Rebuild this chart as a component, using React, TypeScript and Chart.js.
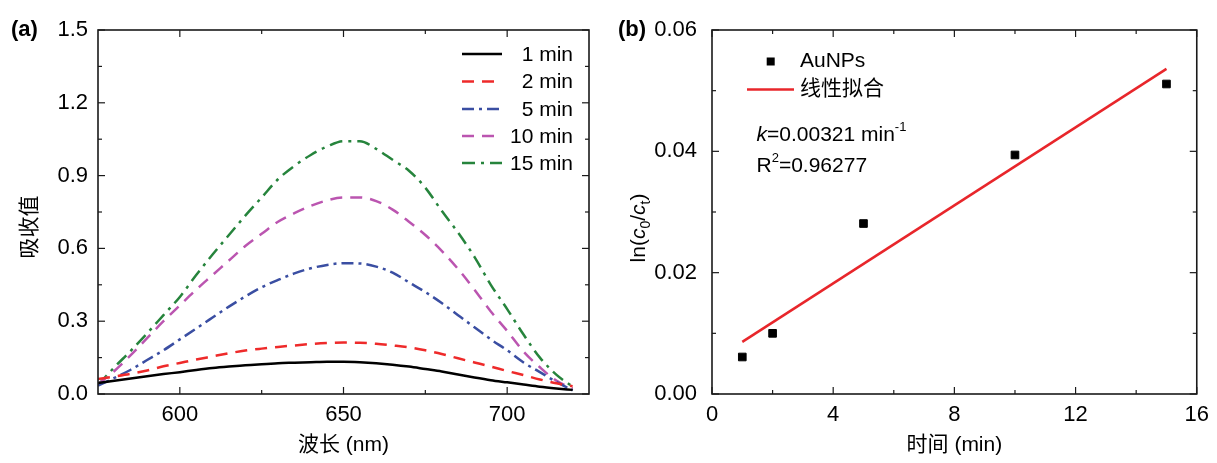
import React, { useEffect, useRef } from "react";
import { Chart, registerables } from "chart.js";

Chart.register(...registerables);

// ---------- data ----------
const wavelengths = [575, 580, 585, 590, 595, 600, 605, 610, 615, 620, 625, 630, 635, 640, 645, 650, 655, 660, 665, 670, 675, 680, 685, 690, 695, 700, 705, 710, 715, 720];
const abs1min = [0.045, 0.055, 0.064, 0.073, 0.082, 0.09, 0.099, 0.107, 0.113, 0.118, 0.123, 0.127, 0.129, 0.131, 0.133, 0.133, 0.131, 0.127, 0.121, 0.113, 0.103, 0.093, 0.08, 0.068, 0.057, 0.048, 0.039, 0.03, 0.023, 0.017];
const abs2min = [0.062, 0.072, 0.083, 0.097, 0.114, 0.128, 0.142, 0.155, 0.168, 0.179, 0.187, 0.194, 0.2, 0.206, 0.21, 0.212, 0.211, 0.207, 0.2, 0.192, 0.18, 0.165, 0.147, 0.13, 0.113, 0.095, 0.078, 0.06, 0.044, 0.032];
const abs5min = [0.035, 0.066, 0.1, 0.14, 0.18, 0.225, 0.27, 0.315, 0.36, 0.402, 0.44, 0.47, 0.497, 0.518, 0.532, 0.539, 0.538, 0.525, 0.5, 0.46, 0.42, 0.375, 0.325, 0.275, 0.225, 0.18, 0.13, 0.09, 0.05, 0.015];
const abs10min = [0.04, 0.095, 0.16, 0.23, 0.3, 0.365, 0.43, 0.49, 0.55, 0.61, 0.66, 0.71, 0.745, 0.775, 0.798, 0.81, 0.81, 0.795, 0.76, 0.71, 0.655, 0.59, 0.515, 0.43, 0.34, 0.26, 0.175, 0.11, 0.055, 0.022];
const abs15min = [0.037, 0.11, 0.178, 0.25, 0.325, 0.4, 0.49, 0.575, 0.655, 0.735, 0.81, 0.885, 0.94, 0.985, 1.02, 1.042, 1.042, 1.01, 0.965, 0.92, 0.85, 0.755, 0.665, 0.565, 0.45, 0.35, 0.245, 0.15, 0.08, 0.03];
const seriesLabels = ["1 min", "2 min", "5 min", "10 min", "15 min"];

const timeMin = [1, 2, 5, 10, 15];
const lnRatio = [0.0061, 0.01, 0.0281, 0.0394, 0.0511];
const fitTime = [1, 15];
const fitLn = [0.0086, 0.0536];

const xTicksA = [600, 650, 700];
const xMinorA = [625, 675];
const yTicksA = [0, 0.3, 0.6, 0.9, 1.2, 1.5];
const yMinorA = [0.15, 0.45, 0.75, 1.05, 1.35];
const xTicksB = [0, 4, 8, 12, 16];
const xMinorB = [2, 6, 10, 14];
const yTicksB = [0, 0.02, 0.04, 0.06];
const yMinorB = [0.01, 0.03, 0.05];

// ---------- styles ----------
const FONT = "'Liberation Sans', Arial, 'Noto Sans CJK SC', sans-serif";
const CJK = "'Liberation Sans', 'Noto Sans CJK SC', sans-serif";
const AXIS = "#1a1a1a";
const seriesColors = ["#000000", "#ee2a2a", "#3a4ea2", "#bb55b0", "#26843c"];
const seriesDash: number[][] = [[], [12, 8], [12, 5, 3, 5], [12, 8], [13, 6, 3, 6]];
const FIT_RED = "#e8262b";
const TICK_SIZE = 22;
const TEXT_SIZE = 21;

function drawFrame(chart: any, xMaj: number[], xMin: number[], yMaj: number[], yMin: number[]) {
  const { ctx, chartArea: a, scales } = chart;
  ctx.save();
  ctx.strokeStyle = AXIS;
  ctx.lineWidth = 1.6;
  ctx.strokeRect(a.left, a.top, a.right - a.left, a.bottom - a.top);
  ctx.lineWidth = 1.2;
  const seg = (x1: number, y1: number, x2: number, y2: number) => {
    ctx.beginPath();
    ctx.moveTo(x1, y1);
    ctx.lineTo(x2, y2);
    ctx.stroke();
  };
  const xt = (vals: number[], len: number) =>
    vals.forEach((v) => {
      const p = scales.x.getPixelForValue(v);
      seg(p, a.bottom, p, a.bottom - len);
      seg(p, a.top, p, a.top + len);
    });
  const yt = (vals: number[], len: number) =>
    vals.forEach((v) => {
      const p = scales.y.getPixelForValue(v);
      seg(a.left, p, a.left + len, p);
      seg(a.right, p, a.right - len, p);
    });
  xt(xMaj, 7);
  xt(xMin, 4);
  yt(yMaj, 7);
  yt(yMin, 4);
  ctx.restore();
}

function text(ctx: any, s: string, x: number, y: number, font: string, align = "left", baseline = "middle") {
  ctx.font = font;
  ctx.textAlign = align;
  ctx.textBaseline = baseline;
  ctx.fillStyle = "#000";
  ctx.fillText(s, x, y);
}

function axisX(min: number, max: number, ticks: number[], height: number) {
  return {
    type: "linear",
    min,
    max,
    grid: { display: false, drawTicks: false },
    border: { display: false },
    ticks: { color: "#000", font: { size: TICK_SIZE, family: FONT }, padding: 8, maxRotation: 0, autoSkip: false },
    afterBuildTicks: (s: any) => {
      s.ticks = ticks.map((v) => ({ value: v }));
    },
    afterFit: (s: any) => {
      s.height = height;
    },
  };
}

function axisY(min: number, max: number, ticks: number[], width: number, pad: number, digits: number) {
  return {
    type: "linear",
    min,
    max,
    grid: { display: false, drawTicks: false },
    border: { display: false },
    ticks: {
      color: "#000",
      font: { size: TICK_SIZE, family: FONT },
      padding: pad,
      autoSkip: false,
      callback: (v: any) => Number(v).toFixed(digits),
    },
    afterBuildTicks: (s: any) => {
      s.ticks = ticks.map((v) => ({ value: v }));
    },
    afterFit: (s: any) => {
      s.width = width;
    },
  };
}

function PanelA() {
  const ref = useRef<HTMLCanvasElement>(null);
  useEffect(() => {
    const series = [abs1min, abs2min, abs5min, abs10min, abs15min];
    const decor = {
      id: "decorA",
      afterDraw(chart: any) {
        const { ctx, chartArea: a } = chart;
        drawFrame(chart, xTicksA, xMinorA, yTicksA, yMinorA);
        ctx.save();
        const rows = [54, 81.5, 109, 136, 163];
        seriesLabels.forEach((lab, i) => {
          ctx.strokeStyle = seriesColors[i];
          ctx.lineWidth = 2.5;
          ctx.setLineDash(seriesDash[i]);
          ctx.beginPath();
          ctx.moveTo(462, rows[i]);
          ctx.lineTo(502, rows[i]);
          ctx.stroke();
          ctx.setLineDash([]);
          text(ctx, lab, 573, rows[i] + 1, `${TEXT_SIZE}px ${FONT}`, "right");
        });
        text(ctx, "波长 (nm)", (a.left + a.right) / 2, 445, `${TEXT_SIZE}px ${CJK}`, "center");
        ctx.save();
        ctx.translate(30, 227);
        ctx.rotate(-Math.PI / 2);
        text(ctx, "吸收值", 0, 0, `${TEXT_SIZE}px ${CJK}`, "center");
        ctx.restore();
        text(ctx, "(a)", 11, 30, `bold 22px ${FONT}`, "left");
        ctx.restore();
      },
    };
    const chart = new Chart(ref.current as HTMLCanvasElement, {
      type: "line",
      data: {
        datasets: series.map((vals, i) => ({
          label: seriesLabels[i],
          data: wavelengths.map((w, j) => ({ x: w, y: vals[j] })),
          borderColor: seriesColors[i],
          borderWidth: 2.5,
          borderDash: seriesDash[i],
          pointRadius: 0,
          cubicInterpolationMode: "monotone" as const,
          fill: false,
        })),
      },
      options: {
        animation: false,
        responsive: false,
        layout: { padding: { left: 0, right: 11, top: 30, bottom: 0 } },
        plugins: { legend: { display: false }, tooltip: { enabled: false } },
        scales: {
          x: axisX(575, 725, xTicksA, 69),
          y: axisY(0, 1.5, yTicksA, 98, 10, 1),
        },
      },
      plugins: [decor],
    } as any);
    return () => chart.destroy();
  }, []);
  return <canvas ref={ref} width={600} height={463} style={{ position: "absolute", left: 0, top: 0, width: 600, height: 463 }} />;
}

function PanelB() {
  const ref = useRef<HTMLCanvasElement>(null);
  useEffect(() => {
    const decor = {
      id: "decorB",
      afterDraw(chart: any) {
        const { ctx, chartArea: a } = chart;
        drawFrame(chart, xTicksB, xMinorB, yTicksB, yMinorB);
        ctx.save();
        const F = `${TEXT_SIZE}px ${FONT}`;
        ctx.fillStyle = "#000";
        ctx.fillRect(170.7 - 4, 61.5 - 4, 8, 8);
        text(ctx, "AuNPs", 200, 61, F);
        ctx.strokeStyle = FIT_RED;
        ctx.lineWidth = 2.5;
        ctx.beginPath();
        ctx.moveTo(147, 89.5);
        ctx.lineTo(194, 89.5);
        ctx.stroke();
        text(ctx, "线性拟合", 200, 89, `${TEXT_SIZE}px ${CJK}`);
        // annotation
        let x = 156.5;
        const FI = `italic ${TEXT_SIZE}px ${FONT}`;
        const FS = `13px ${FONT}`;
        text(ctx, "k", x, 141, FI, "left", "alphabetic");
        x += ctx.measureText("k").width;
        text(ctx, "=0.00321 min", x, 141, F, "left", "alphabetic");
        x += ctx.measureText("=0.00321 min").width;
        text(ctx, "-1", x, 131, FS, "left", "alphabetic");
        x = 156.5;
        text(ctx, "R", x, 172, F, "left", "alphabetic");
        x += ctx.measureText("R").width;
        text(ctx, "2", x, 162, FS, "left", "alphabetic");
        x += ctx.measureText("2").width;
        text(ctx, "=0.96277", x, 172, F, "left", "alphabetic");
        // titles
        text(ctx, "时间 (min)", (a.left + a.right) / 2, 445, `${TEXT_SIZE}px ${CJK}`, "center");
        ctx.save();
        ctx.translate(38, 228);
        ctx.rotate(-Math.PI / 2);
        const parts: [string, string, number][] = [
          ["ln(", F, 0],
          ["c", FI, 0],
          ["0", `14px ${FONT}`, 5],
          ["/", F, 0],
          ["c", FI, 0],
          ["t", `14px ${FONT}`, 5],
          [")", F, 0],
        ];
        let total = 0;
        parts.forEach(([s, f]) => {
          ctx.font = f;
          total += ctx.measureText(s).width;
        });
        let px = -total / 2;
        parts.forEach(([s, f, dy]) => {
          text(ctx, s, px, 7 + dy, f, "left", "alphabetic");
          ctx.font = f;
          px += ctx.measureText(s).width;
        });
        ctx.restore();
        text(ctx, "(b)", 18, 30, `bold 22px ${FONT}`, "left");
        ctx.restore();
      },
    };
    const chart = new Chart(ref.current as HTMLCanvasElement, {
      type: "scatter",
      data: {
        datasets: [
          {
            label: "AuNPs",
            data: timeMin.map((t, i) => ({ x: t, y: lnRatio[i] })),
            pointStyle: "rect",
            pointRadius: 5.4,
            backgroundColor: "#000",
            borderColor: "#000",
            borderWidth: 1,
            showLine: false,
          },
          {
            label: "线性拟合",
            data: fitTime.map((t, i) => ({ x: t, y: fitLn[i] })),
            showLine: true,
            borderColor: FIT_RED,
            borderWidth: 2.5,
            pointRadius: 0,
          },
        ],
      },
      options: {
        animation: false,
        responsive: false,
        layout: { padding: { left: 0, right: 14, top: 30, bottom: 0 } },
        plugins: { legend: { display: false }, tooltip: { enabled: false } },
        scales: {
          x: axisX(0, 16, xTicksB, 69),
          y: axisY(0, 0.06, yTicksB, 112, 15, 2),
        },
      },
      plugins: [decor],
    } as any);
    return () => chart.destroy();
  }, []);
  return <canvas ref={ref} width={617} height={463} style={{ position: "absolute", left: 600, top: 0, width: 617, height: 463 }} />;
}

export default function App() {
  return (
    <div style={{ position: "absolute", left: 0, top: 0, width: 1217, height: 463, background: "#fff", overflow: "hidden" }}>
      <PanelA />
      <PanelB />
    </div>
  );
}
